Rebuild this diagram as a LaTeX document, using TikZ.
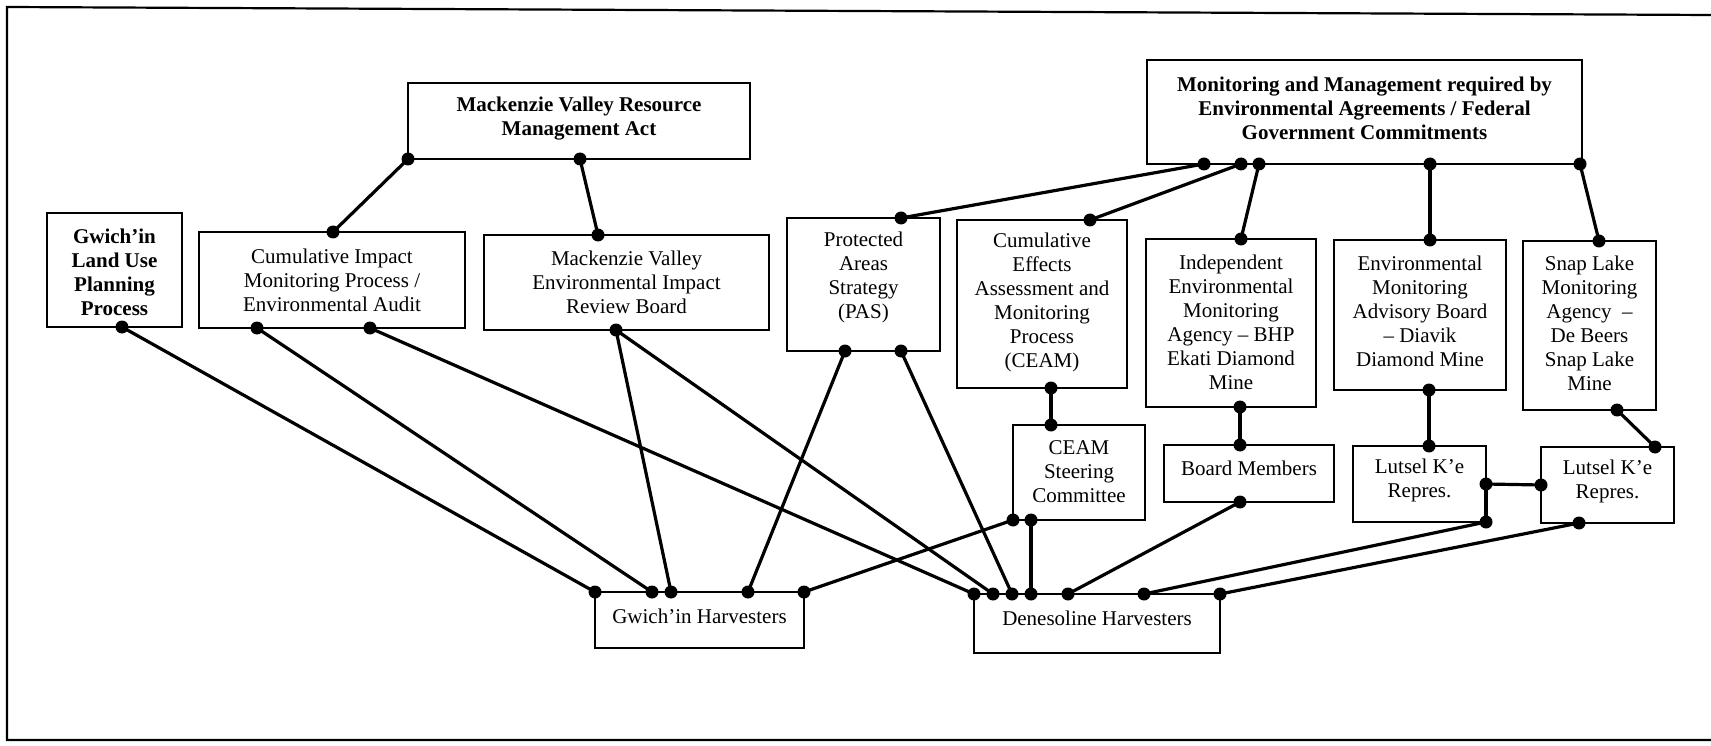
\documentclass[tikz,border=0pt]{standalone}
\usepackage{fontspec}
\setmainfont{Liberation Serif}
\begin{document}
\begin{tikzpicture}[x=1pt,y=-1pt,
  box/.style={draw, line width=2.8pt, outer sep=0pt, inner sep=0pt},
  txt/.style={align=center, inner sep=0pt, font=\fontsize{21}{24}\selectfont},
  btxt/.style={txt, font=\fontsize{21}{24}\selectfont\bfseries},
  conn/.style={line width=3.2pt},
  dotc/.style={fill=black}]
\useasboundingbox (0,0) rectangle (1711,746);
% outer frame
\draw[line width=2.2pt] (1711,15) -- (7,7) -- (7,740) -- (1711,740);

% boxes
\node[box, minimum width=342, minimum height=76] (mvrma) at (579,121) {};
\node[box, minimum width=135, minimum height=114] (landuse) at (114.5,270) {};
\node[box, minimum width=266, minimum height=96] (cimp) at (332,280) {};
\node[box, minimum width=285, minimum height=95] (mveirb) at (626.5,282.5) {};
\node[box, minimum width=435, minimum height=104] (mmrea) at (1364.5,112) {};
\node[box, minimum width=153, minimum height=133] (pas) at (863.5,284.5) {};
\node[box, minimum width=170, minimum height=168] (ceam) at (1042,304) {};
\node[box, minimum width=170, minimum height=168] (iema) at (1231,323) {};
\node[box, minimum width=172, minimum height=150] (emab) at (1420,315) {};
\node[box, minimum width=133, minimum height=169] (snap) at (1589.5,325.5) {};
\node[box, minimum width=132, minimum height=95] (steer) at (1079,472.5) {};
\node[box, minimum width=170, minimum height=57] (board) at (1249,473.5) {};
\node[box, minimum width=133, minimum height=76] (lut1) at (1419.5,484) {};
\node[box, minimum width=133, minimum height=76] (lut2) at (1607.5,485) {};
\node[box, minimum width=209, minimum height=56] (gwh) at (699.5,620) {};
\node[box, minimum width=246, minimum height=59] (deh) at (1097,623.5) {};

% texts
\node[btxt] (mvrma-t) at (579,119) {Mackenzie Valley Resource\\Management Act};
\node[btxt] (mmrea-t) at (1364.5,108) {Monitoring and Management required by\\Environmental Agreements / Federal\\Government Commitments};
\node[btxt] (landuse-t) at (114.5,272) {Gwich’in\\Land Use\\Planning\\Process};
\node[txt] (cimp-t) at (332,280) {Cumulative Impact\\Monitoring Process /\\Environmental Audit};
\node[txt] (mveirb-t) at (626.5,282) {Mackenzie Valley\\Environmental Impact\\Review Board};
\node[txt] (pas-t) at (863.5,277) {Protected\\Areas\\Strategy\\(PAS)};
\node[txt] (ceam-t) at (1042,302) {Cumulative\\Effects\\Assessment and\\Monitoring\\Process\\(CEAM)};
\node[txt] (iema-t) at (1231,322) {Independent\\Environmental\\Monitoring\\Agency – BHP\\Ekati Diamond\\Mine};
\node[txt] (emab-t) at (1420,311) {Environmental\\Monitoring\\Advisory Board\\– Diavik\\Diamond Mine};
\node[txt] (snap-t) at (1589.5,323) {Snap Lake\\Monitoring\\Agency\ \ –\\De Beers\\Snap Lake\\Mine};
\node[txt] (steer-t) at (1079,472) {CEAM\\Steering\\Committee};
\node[txt] (board-t) at (1249,468) {Board Members};
\node[txt] (lut1-t) at (1419.5,480) {Lutsel K’e\\Repres.};
\node[txt] (lut2-t) at (1607.5,481) {Lutsel K’e\\Repres.};
\node[txt] (gwh-t) at (699.5,616) {Gwich’in Harvesters};
\node[txt] (deh-t) at (1097,618) {Denesoline Harvesters};

% connection points
\coordinate (mv1) at (mvrma.south west);
\coordinate (mv2) at ([xshift=1pt]mvrma.south);
\coordinate (ci0) at ([xshift=1pt]cimp.north);
\coordinate (ci1) at ([xshift=-75pt]cimp.south);
\coordinate (ci2) at ([xshift=38pt]cimp.south);
\coordinate (me0) at ([xshift=-28.5pt]mveirb.north);
\coordinate (me1) at ([xshift=-10.5pt]mveirb.south);
\coordinate (lu1) at ([xshift=7.5pt]landuse.south);
\coordinate (mm1) at ([xshift=-160.5pt]mmrea.south);
\coordinate (mm2) at ([xshift=-123.5pt]mmrea.south);
\coordinate (mm3) at ([xshift=-105.5pt]mmrea.south);
\coordinate (mm4) at ([xshift=65.5pt]mmrea.south);
\coordinate (mm5) at ([xshift=-2pt]mmrea.south east);
\coordinate (pa0) at ([xshift=37.5pt]pas.north);
\coordinate (pa1) at ([xshift=-18.5pt]pas.south);
\coordinate (pa2) at ([xshift=37.5pt]pas.south);
\coordinate (ce0) at ([xshift=48pt]ceam.north);
\coordinate (ce1) at ([xshift=9pt]ceam.south);
\coordinate (ie0) at ([xshift=10pt]iema.north);
\coordinate (ie1) at ([xshift=9pt]iema.south);
\coordinate (em0) at ([xshift=10pt]emab.north);
\coordinate (em1) at ([xshift=9pt]emab.south);
\coordinate (sn0) at ([xshift=9.5pt]snap.north);
\coordinate (sn1) at ([xshift=27.5pt]snap.south);
\coordinate (st0) at ([xshift=-28pt]steer.north);
\coordinate (st1) at (steer.south west);
\coordinate (st2) at ([xshift=-48pt]steer.south);
\coordinate (bo0) at ([xshift=-9pt]board.north);
\coordinate (bo1) at ([xshift=-9pt]board.south);
\coordinate (l10) at ([xshift=9.5pt]lut1.north);
\coordinate (l1r) at (lut1.east);
\coordinate (l1b) at (lut1.south east);
\coordinate (l20) at ([xshift=47.5pt]lut2.north);
\coordinate (l2l) at (lut2.west);
\coordinate (l2b) at ([xshift=-28.5pt]lut2.south);
\coordinate (g1) at (gwh.north west);
\coordinate (g2) at ([xshift=-47.5pt]gwh.north);
\coordinate (g3) at ([xshift=-28.5pt]gwh.north);
\coordinate (g4) at ([xshift=48.5pt]gwh.north);
\coordinate (g5) at (gwh.north east);
\coordinate (d1) at (deh.north west);
\coordinate (d2) at ([xshift=-104pt]deh.north);
\coordinate (d3) at ([xshift=-85pt]deh.north);
\coordinate (d4) at ([xshift=-66pt]deh.north);
\coordinate (d5) at ([xshift=-29pt]deh.north);
\coordinate (d6) at ([xshift=47pt]deh.north);
\coordinate (d7) at (deh.north east);

% connectors
\draw[conn] (mv1) -- (ci0);
\draw[conn] (mv2) -- (me0);
\draw[conn] (lu1) -- (g1);
\draw[conn] (ci1) -- (g2);
\draw[conn] (ci2) -- (d1);
\draw[conn] (me1) -- (g3);
\draw[conn] (me1) -- (d2);
\draw[conn] (pa1) -- (g4);
\draw[conn] (pa2) -- (d3);
\draw[conn] (mm1) -- (pa0);
\draw[conn] (mm2) -- (ce0);
\draw[conn] (mm3) -- (ie0);
\draw[conn] (mm4) -- (em0);
\draw[conn] (mm5) -- (sn0);
\draw[conn] (ce1) -- (st0);
\draw[conn] (st1) -- (g5);
\draw[conn] (st2) -- (d4);
\draw[conn] (ie1) -- (bo0);
\draw[conn] (bo1) -- (d5);
\draw[conn] (em1) -- (l10);
\draw[conn] (sn1) -- (l20);
\draw[conn] (l1r) -- (l2l);
\draw[conn] (l1r) -- (l1b);
\draw[conn] (l1b) -- (d6);
\draw[conn] (l2b) -- (d7);

% dots
\foreach \p in {mv1,mv2,ci0,ci1,ci2,me0,me1,lu1,mm1,mm2,mm3,mm4,mm5,pa0,pa1,pa2,ce0,ce1,ie0,ie1,em0,em1,sn0,sn1,st0,st1,st2,bo0,bo1,l10,l1r,l1b,l20,l2l,l2b,g1,g2,g3,g4,g5,d1,d2,d3,d4,d5,d6,d7}
  \fill[dotc] (\p) circle[radius=6.5pt];
\end{tikzpicture}
\end{document}
